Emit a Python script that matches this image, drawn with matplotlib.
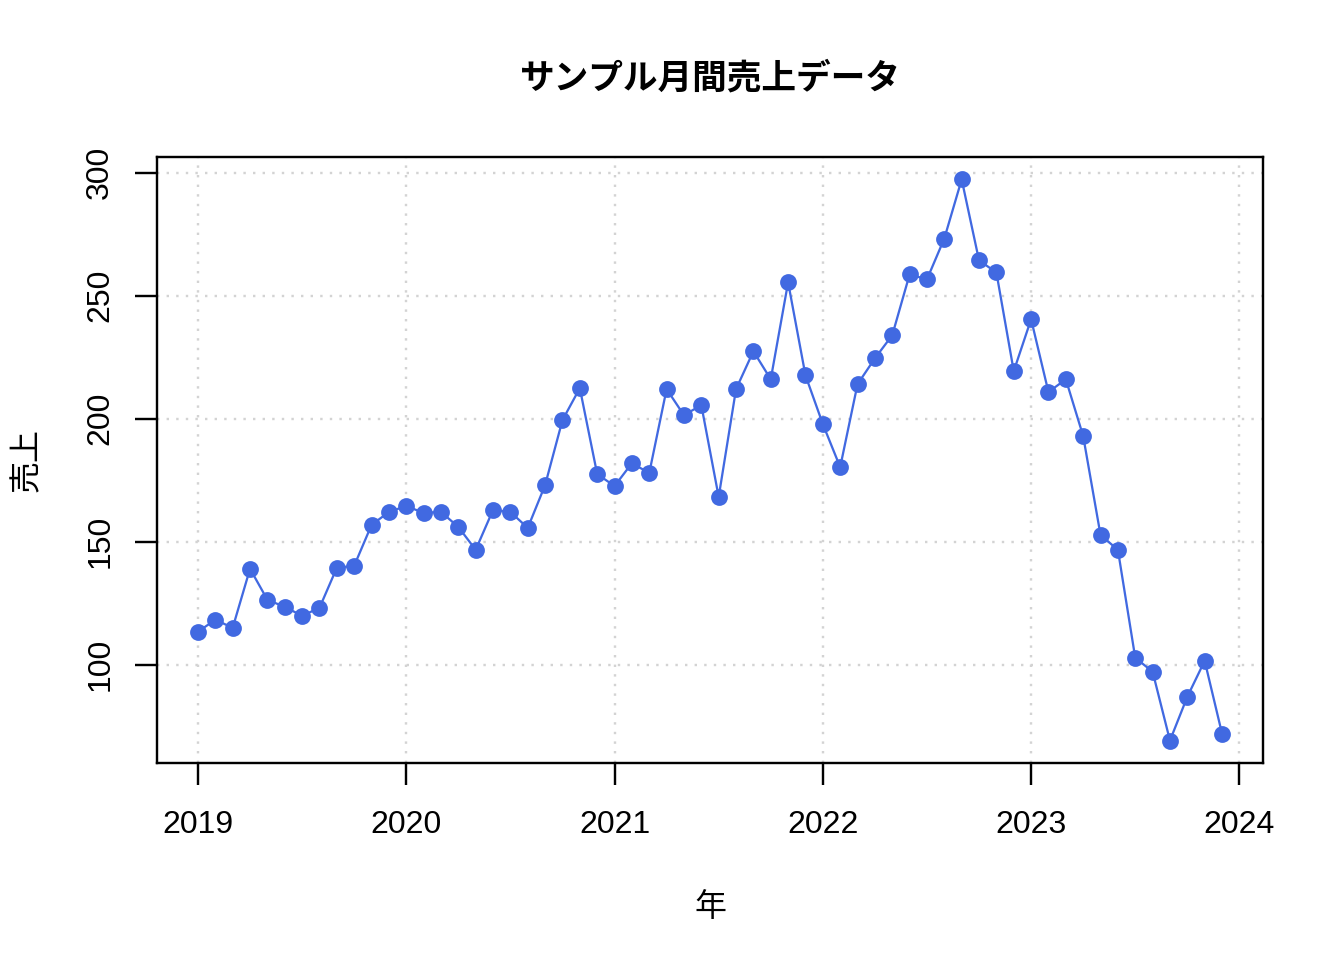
import matplotlib
matplotlib.use("Agg")
import matplotlib.pyplot as plt
import numpy as np

plt.rcParams['font.family'] = ['Liberation Sans', 'Noto Sans CJK JP', 'DejaVu Sans']

title = "サンプル月間売上データ"
xlabel = "年"
ylabel = "売上"
start_year = 2019
sales = [
    113.4, 118.3, 115.0, 139.0, 126.4, 123.5, 119.9, 123.1, 139.4, 140.2, 156.8, 162.1,
    164.5, 161.7, 162.1, 156.0, 146.7, 162.9, 162.1, 155.6, 173.0, 199.4, 212.4, 177.5,
    172.6, 181.9, 177.9, 212.0, 201.4, 205.5, 168.2, 212.0, 227.4, 216.0, 255.4, 217.6,
    197.8, 180.3, 214.0, 224.5, 233.9, 258.6, 256.6, 273.2, 297.2, 264.3, 259.4, 219.3,
    240.4, 210.8, 216.0, 192.9, 152.7, 146.7, 102.8, 97.2, 69.2, 87.0, 101.6, 72.0,
]
xticks = [2019, 2020, 2021, 2022, 2023, 2024]
yticks = [100, 150, 200, 250, 300]

months = np.arange(len(sales))
x = start_year + months / 12.0
y = np.array(sales)

fig = plt.figure(figsize=(7, 5), dpi=192)
ax = fig.add_axes([157/1344, 1 - 763/960, (1263-157)/1344, (763-157)/960])

xr = x.max() - x.min()
yr = y.max() - y.min()
ax.set_xlim(x.min() - 0.04*xr, x.max() + 0.04*xr)
ax.set_ylim(y.min() - 0.04*yr, y.max() + 0.04*yr)

for xv in xticks:
    ax.axvline(xv, color='#D3D3D3', linestyle=(0, (1, 3)), linewidth=0.9, zorder=1)
for yv in yticks:
    ax.axhline(yv, color='#D3D3D3', linestyle=(0, (1, 3)), linewidth=0.9, zorder=1)

ax.plot(x, y, color='#4169E1', linewidth=0.85, marker='o', markersize=6.3,
        markeredgewidth=0, zorder=3)

ax.set_xticks(xticks)
ax.set_xticklabels([str(t) for t in xticks])
ax.set_yticks(yticks)
ax.set_yticklabels([str(t) for t in yticks], rotation=90, va='center')
ax.tick_params(axis='both', direction='out', length=8.2, width=0.9,
               labelsize=12, color='black')
ax.tick_params(axis='x', pad=9.5)
ax.tick_params(axis='y', pad=7.5)
for s in ax.spines.values():
    s.set_linewidth(0.9)
    s.set_color('black')

ax.set_xlabel(xlabel, fontsize=12, labelpad=19, family=['Noto Sans CJK JP'])
ax.set_ylabel(ylabel, fontsize=12, labelpad=16, family=['Noto Sans CJK JP'])
fig.text(710/1344, 1 - 78/960, title, fontsize=13, fontweight='bold',
         family=['Noto Sans CJK JP'], ha='center', va='center')

fig.savefig("out.png", dpi=192, facecolor='white')
